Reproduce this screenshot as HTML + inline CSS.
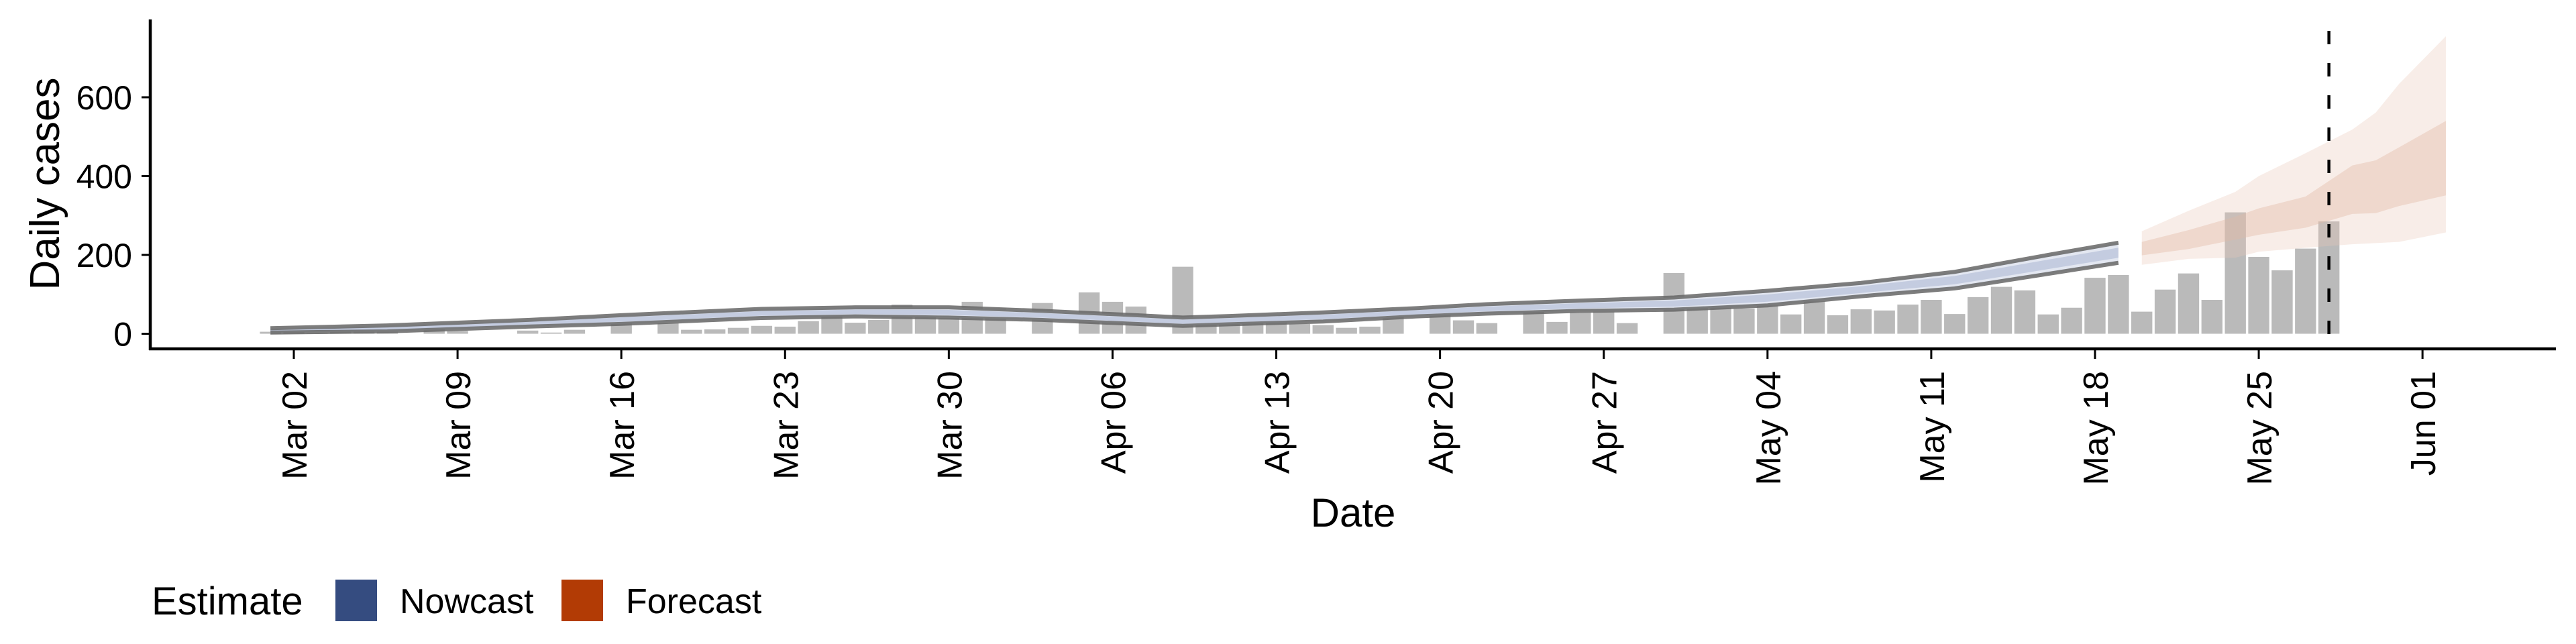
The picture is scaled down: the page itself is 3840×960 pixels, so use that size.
<!DOCTYPE html>
<html><head><meta charset="utf-8"><style>
html,body{margin:0;padding:0;background:#fff;}
svg{display:block;font-family:"Liberation Sans",sans-serif;}
</style></head><body>
<svg id="chart" width="3840" height="960" viewBox="0 0 3840 960" xmlns="http://www.w3.org/2000/svg">
<g id="bars"></g>
<g id="bands"></g>
<g id="axes"></g>
<text x="0" y="0" transform="translate(88,274) rotate(-90)" text-anchor="middle" font-size="62">Daily cases</text>
<text x="2017" y="785" text-anchor="middle" font-size="60">Date</text>
<g>
<text x="226" y="916" font-size="58">Estimate</text>
<rect x="500" y="864" width="62" height="62" fill="#354c80"/>
<text x="596" y="914" font-size="52">Nowcast</text>
<rect x="837" y="864" width="62" height="62" fill="#b23b05"/>
<text x="933" y="914" font-size="52">Forecast</text>
</g>
</svg>
<script>
// day offsets relative to Mar 02
const barStart = -1;
const barValues = [5,5,2,5,5,5,0,15,7,0,0,8,3,10,0,39,0,27,10,11,15,20,18,32,49,28,35,74,45,40,81,64,0,78,0,105,81,69,0,170,28,45,36,33,25,22,15,18,47,0,50,34,27,0,74,30,54,56,27,0,154,81,66,64,72,49,82,47,62,59,74,86,50,93,119,110,49,66,142,149,56,112,153,86,308,195,161,216,285];
const nowDays = [-1,4,10,14,20,24,28,32,36,38,40,44,48,51,55,59,63,67,71,75,78];
const nowUpper = [14,21,35,47,63,67,67,58,47,41,45,54,65,75,84,92,109,129,157,200,231];
const nowLower = [3,6,18,25,40,44,41,35,25,20,24,31,44,51,58,61,72,95,115,152,180];
const fcDays = [79,81,83,84,86,88,89,90,92];
const fcOuterUpper = [260,312,360,400,458,518,561,634,755];
const fcInnerUpper = [233,263,297,318,348,427,440,473,540];
const fcInnerLower = [199,215,239,251,269,304,306,324,351];
const fcOuterLower = [175,190,193,208,218,227,230,233,257];
const yTicks = [0,200,400,600];
const xTickDays = [0,7,14,21,28,35,42,49,56,63,70,77,84,91];
const xTickLabels = ["Mar 02","Mar 09","Mar 16","Mar 23","Mar 30","Apr 06","Apr 13","Apr 20","Apr 27","May 04","May 11","May 18","May 25","Jun 01"];
const cutoffDay = 87;

const NS="http://www.w3.org/2000/svg";
const X0=438, DX=34.87, Y0=497.5, DY=0.5875;
function xs(d){return X0+d*DX;}
function ys(v){return Y0-v*DY;}
function mk(tag,attrs,parent){const e=document.createElementNS(NS,tag);for(const k in attrs)e.setAttribute(k,attrs[k]);parent.appendChild(e);return e;}

const gb=document.getElementById('bars');
barValues.forEach((v,i)=>{
  if(v<=0) return;
  const d=barStart+i, w=DX*0.9;
  const r=mk('rect',{x:xs(d)-w/2,y:ys(v),width:w,height:v*DY,fill:'#bababa'},gb);
  
  
});

function area(days,up,lo){
  let p='M'+days.map((d,i)=>xs(d)+','+ys(up[i])).join(' L');
  p+=' L'+days.slice().reverse().map((d,j)=>{const i=days.length-1-j;return xs(d)+','+ys(lo[i]);}).join(' L')+' Z';
  return p;
}
function line(days,vals){return 'M'+days.map((d,i)=>xs(d)+','+ys(vals[i])).join(' L');}
const gd=document.getElementById('bands');
const nOuter=mk('path',{d:area(nowDays,nowUpper,nowLower),fill:'#e3e7f1'},gd);


const iu=nowUpper.map((u,i)=>u-(u-nowLower[i])*0.25), il=nowLower.map((l,i)=>l+(nowUpper[i]-l)*0.25);
const nInner=mk('path',{d:area(nowDays,iu,il),fill:'#c4cce0'},gd);


const lu=mk('path',{d:line(nowDays,nowUpper),fill:'none',stroke:'#666','stroke-width':6,'stroke-opacity':0.85},gd);


const ll=mk('path',{d:line(nowDays,nowLower),fill:'none',stroke:'#666','stroke-width':6,'stroke-opacity':0.85},gd);


const fo=mk('path',{d:area(fcDays,fcOuterUpper,fcOuterLower),fill:'#e9c8b8','fill-opacity':0.32},gd);


const fi=mk('path',{d:area(fcDays,fcInnerUpper,fcInnerLower),fill:'#e2b9a4','fill-opacity':0.4},gd);



const ga=document.getElementById('axes');
const yl=mk('line',{x1:224,y1:29,x2:224,y2:522,stroke:'#000','stroke-width':4.5},ga);


const xl=mk('line',{x1:222,y1:520,x2:3810,y2:520,stroke:'#000','stroke-width':4.5},ga);


yTicks.forEach(v=>{
  const t=mk('line',{x1:211,y1:ys(v),x2:224,y2:ys(v),stroke:'#000','stroke-width':3},ga);
  
  
  const tx=mk('text',{x:197,y:ys(v)+18,'text-anchor':'end','font-size':50},ga);
  
  
  tx.textContent=v;
});
xTickDays.forEach((d,i)=>{
  const x=xs(d);
  const t=mk('line',{x1:x,y1:522,x2:x,y2:535,stroke:'#000','stroke-width':3},ga);
  
  
  const tx=mk('text',{x:0,y:0,transform:'translate('+(x+19)+',553) rotate(-90)','text-anchor':'end','font-size':52},ga);
  
  
  tx.textContent=xTickLabels[i];
});
const cl=mk('line',{x1:xs(cutoffDay),y1:46,x2:xs(cutoffDay),y2:520,stroke:'#000','stroke-width':4.5,'stroke-dasharray':'20 28'},ga);


</script>
</body></html>
